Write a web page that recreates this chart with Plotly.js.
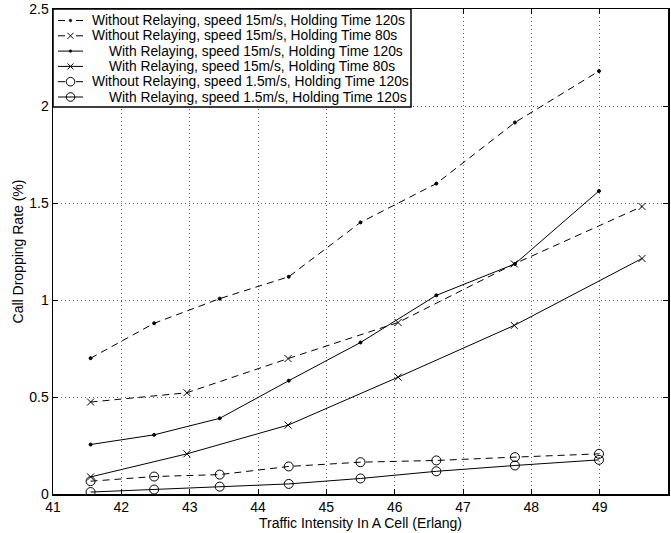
<!DOCTYPE html>
<html><head><meta charset="utf-8">
<script src="https://cdn.plot.ly/plotly-3.0.1.min.js"></script>
<style>html,body{margin:0;padding:0;background:#fff}</style>
</head><body><div id="chart" style="width:671px;height:533px"></div>
<script>
var seriesNames = [
  "Without Relaying, speed 15m/s, Holding Time 120s",
  "Without Relaying, speed 15m/s, Holding Time 80s",
  "With Relaying, speed 15m/s, Holding Time 120s",
  "With Relaying, speed 15m/s, Holding Time 80s",
  "Without Relaying, speed 1.5m/s, Holding Time 120s",
  "With Relaying, speed 1.5m/s, Holding Time 120s"
];
var xA = [41.55, 42.48, 43.44, 44.45, 45.50, 46.61, 47.76, 48.99];
var xB = [41.55, 42.96, 44.44, 46.05, 47.75, 49.62];
var noRelay15_120 = [0.70, 0.88, 1.007, 1.12, 1.40, 1.60, 1.915, 2.18];
var noRelay15_80  = [0.474, 0.522, 0.698, 0.884, 1.186, 1.482];
var relay15_120   = [0.255, 0.305, 0.390, 0.584, 0.781, 1.024, 1.186, 1.562];
var relay15_80    = [0.088, 0.207, 0.355, 0.602, 0.869, 1.214];
var noRelay1_5    = [0.066, 0.090, 0.100, 0.142, 0.164, 0.173, 0.190, 0.207];
var relay1_5      = [0.010, 0.023, 0.038, 0.052, 0.080, 0.117, 0.147, 0.176];
var xTicks = [41,42,43,44,45,46,47,48,49,50];
var yTicks = [0,0.5,1,1.5,2,2.5];
var yTickText = ["0","0.5","1","1.5","2","2.5"];

var W = 671, H = 533;
var M = {l: 53, r: 3, t: 9, b: 39};
var PW = W - M.l - M.r, PH = H - M.t - M.b;
function pxX(px) { return (px - M.l) / PW; }
function pxY(py) { return 1 - (py - M.t) / PH; }

var FONT = "Liberation Sans, Arial, Helvetica, sans-serif";
var dashPat = "7px,5px";
var styles = [
  {dash: true,  sym: "dot"},
  {dash: true,  sym: "x"},
  {dash: false, sym: "dot"},
  {dash: false, sym: "x"},
  {dash: true,  sym: "circle"},
  {dash: false, sym: "circle"}
];
var symMap = {dot: ["circle", 3], x: ["x-thin-open", 7], circle: ["circle-open", 9]};
var xs = [xA, xB, xA, xB, xA, xA];
var ys = [noRelay15_120, noRelay15_80, relay15_120, relay15_80, noRelay1_5, relay1_5];

var data = ys.map(function (y, i) {
  var s = styles[i];
  return {x: xs[i], y: y, name: seriesNames[i], type: "scatter", mode: "lines+markers",
    showlegend: false,
    line: {color: "#000", width: 1, dash: s.dash ? dashPat : "solid"},
    marker: {symbol: symMap[s.sym][0], size: symMap[s.sym][1], color: "#000",
             line: {color: "#000", width: 1}}};
});

// Legend box (MATLAB-style compact legend)
var shapes = [], annotations = [];
var boxL = 53, boxR = 411, boxT = 9, boxB = 107;
shapes.push({type: "rect", xref: "paper", yref: "paper",
  x0: pxX(boxL), x1: pxX(boxR), y0: pxY(boxB), y1: pxY(boxT),
  line: {color: "#000", width: 1.5}, fillcolor: "#fff", layer: "above"});
var rowY0 = 20.5, rowStep = 15.3;
var symL = 58, symR = 83, symC = 70.5;
seriesNames.forEach(function (name, i) {
  var s = styles[i];
  var cy = rowY0 + rowStep * i;
  shapes.push({type: "line", xref: "paper", yref: "paper",
    x0: pxX(symL), x1: pxX(symR), y0: pxY(cy), y1: pxY(cy),
    line: {color: "#000", width: 1, dash: s.dash ? "7px,11px" : "solid"}, layer: "above"});
  if (s.sym === "dot") {
    shapes.push({type: "circle", xref: "paper", yref: "paper",
      x0: pxX(symC - 1.3), x1: pxX(symC + 1.3), y0: pxY(cy + 1.3), y1: pxY(cy - 1.3),
      fillcolor: "#000", line: {color: "#000", width: 0.5}, layer: "above"});
  } else if (s.sym === "x") {
    var d = 3;
    shapes.push({type: "line", xref: "paper", yref: "paper",
      x0: pxX(symC - d), x1: pxX(symC + d), y0: pxY(cy - d), y1: pxY(cy + d),
      line: {color: "#000", width: 1}, layer: "above"});
    shapes.push({type: "line", xref: "paper", yref: "paper",
      x0: pxX(symC - d), x1: pxX(symC + d), y0: pxY(cy + d), y1: pxY(cy - d),
      line: {color: "#000", width: 1}, layer: "above"});
  } else {
    var r = 4.3;
    shapes.push({type: "circle", xref: "paper", yref: "paper",
      x0: pxX(symC - r), x1: pxX(symC + r), y0: pxY(cy + r), y1: pxY(cy - r),
      fillcolor: "rgba(0,0,0,0)", line: {color: "#000", width: 1}, layer: "above"});
  }
  var textX = (name.indexOf("Without") === 0) ? 90 : 106.5;
  annotations.push({xref: "paper", yref: "paper", x: pxX(textX), y: pxY(cy),
    xanchor: "left", yanchor: "middle", showarrow: false, text: name,
    font: {family: FONT, size: 13.8, color: "#000"}});
});

var axisCommon = {
  showline: true, linecolor: "#000", linewidth: 1.5, mirror: "ticks",
  ticks: "inside", ticklen: 5, tickcolor: "#000", tickwidth: 1,
  showgrid: true, gridcolor: "#666", griddash: "1px,3px", gridwidth: 1,
  zeroline: false, tickfont: {family: FONT, size: 14, color: "#000"}
};
var layout = {
  width: W, height: H,
  margin: M,
  paper_bgcolor: "#fff", plot_bgcolor: "#fff",
  font: {family: FONT, size: 14, color: "#000"},
  xaxis: Object.assign({}, axisCommon, {range: [41, 50], tickvals: xTicks,
    title: {text: "Traffic Intensity In A Cell (Erlang)", standoff: 2, font: {family: FONT, size: 14}}}),
  yaxis: Object.assign({}, axisCommon, {range: [0, 2.5], tickvals: yTicks, ticktext: yTickText,
    title: {text: "Call Dropping Rate (%)", standoff: 2, font: {family: FONT, size: 14}}}),
  showlegend: false,
  shapes: shapes,
  annotations: annotations
};
Plotly.newPlot("chart", data, layout, {displayModeBar: false, staticPlot: true});
</script></body></html>
